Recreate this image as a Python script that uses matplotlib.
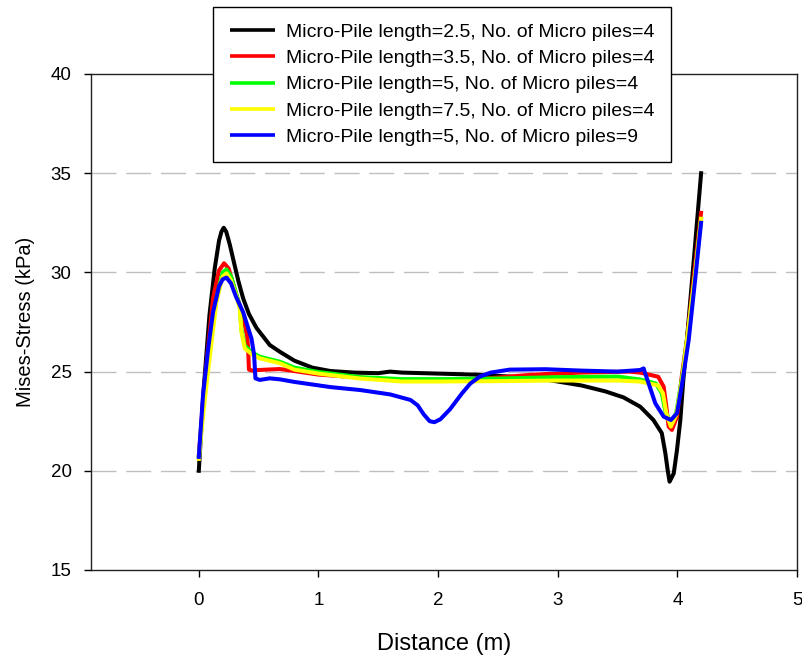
import matplotlib
matplotlib.use("Agg")
import matplotlib.pyplot as plt

plt.rcParams['font.family'] = ['Liberation Sans', 'DejaVu Sans']

labels = [
    "Micro-Pile length=2.5, No. of Micro piles=4",
    "Micro-Pile length=3.5, No. of Micro piles=4",
    "Micro-Pile length=5, No. of Micro piles=4",
    "Micro-Pile length=7.5, No. of Micro piles=4",
    "Micro-Pile length=5, No. of Micro piles=9",
]
colors = ["#000000", "#ff0000", "#00ff00", "#ffff00", "#0000ff"]

black_x = [0, 0.04, 0.09, 0.134, 0.17, 0.19, 0.209, 0.23, 0.26, 0.287, 0.33, 0.371, 0.42, 0.483, 0.594, 0.678,
           0.8, 0.95, 1.1, 1.3, 1.5, 1.6, 1.7, 2.0, 2.3, 2.6, 2.9, 3.2, 3.4, 3.55, 3.69, 3.8, 3.87, 3.9,
           3.92, 3.935, 3.97, 3.997, 4.025, 4.05, 4.08, 4.14, 4.2]
black_y = [19.9, 24.0, 27.85, 30.2, 31.6, 32.05, 32.25, 32.05, 31.4, 30.7, 29.6, 28.7, 27.9, 27.2, 26.34, 26.0,
           25.55, 25.2, 25.03, 24.95, 24.92, 25.0, 24.95, 24.9, 24.85, 24.75, 24.6, 24.3, 24.0, 23.7, 23.23, 22.56, 21.9, 20.88,
           20.0, 19.45, 19.87, 21.05, 22.56, 24.58, 26.6, 30.8, 35.1]

red_x = [0, 0.05, 0.12, 0.17, 0.212, 0.25, 0.315, 0.35, 0.385, 0.405, 0.413, 0.42, 0.45, 0.5, 0.678, 1.0, 1.35,
         1.7, 2.0, 2.4, 2.8, 3.2, 3.6, 3.69, 3.84, 3.886, 3.908, 3.927, 3.955, 3.997, 4.04, 4.08, 4.14, 4.2]
red_y = [20.7, 24.5, 28.7, 30.1, 30.46, 30.2, 28.86, 28.2, 27.35, 26.8, 26.17, 25.1, 25.05, 25.08, 25.13, 24.85, 24.7,
         24.55, 24.55, 24.65, 24.85, 24.95, 25.0, 24.95, 24.74, 24.24, 23.23, 22.23, 22.06, 22.73, 24.9, 26.6, 29.9, 33.1]

green_x = [0, 0.04, 0.08, 0.148, 0.2, 0.232, 0.27, 0.31, 0.343, 0.357, 0.385, 0.45, 0.51, 0.678, 0.8, 1.0, 1.35, 1.7,
           2.0, 2.5, 3.0, 3.5, 3.69, 3.82, 3.87, 3.9, 3.946, 3.99, 4.04, 4.09, 4.15, 4.2]
green_y = [20.6, 23.4, 25.4, 28.7, 30.0, 30.15, 29.8, 29.0, 28.3, 27.1, 26.3, 25.95, 25.75, 25.5, 25.2, 24.98, 24.72, 24.62,
           24.62, 24.65, 24.72, 24.75, 24.6, 24.4, 23.9, 23.0, 22.4, 22.9, 24.7, 27.0, 30.0, 32.8]

yellow_x = [0, 0.04, 0.078, 0.148, 0.2, 0.232, 0.27, 0.31, 0.343, 0.357, 0.385, 0.45, 0.51, 0.678, 0.8, 1.0, 1.35, 1.7,
            2.0, 2.5, 3.0, 3.5, 3.69, 3.84, 3.88, 3.908, 3.946, 3.99, 4.04, 4.09, 4.15, 4.2]
yellow_y = [20.5, 23.0, 25.0, 28.5, 29.8, 29.95, 29.6, 28.9, 28.2, 27.0, 26.17, 25.85, 25.67, 25.42, 25.1, 24.9, 24.65, 24.5,
            24.5, 24.52, 24.55, 24.55, 24.5, 24.3, 23.9, 22.9, 22.23, 22.8, 24.6, 27.0, 30.0, 32.8]

blue_x = [0, 0.036, 0.08, 0.12, 0.17, 0.2, 0.232, 0.27, 0.31, 0.371, 0.441, 0.463, 0.474, 0.51, 0.594, 0.678, 0.8,
          1.1, 1.35, 1.6, 1.77, 1.83, 1.88, 1.93, 1.97, 2.02, 2.1, 2.2, 2.27, 2.35, 2.44, 2.6, 2.9, 3.2, 3.5,
          3.69, 3.718, 3.76, 3.816, 3.886, 3.946, 3.997, 4.04, 4.095, 4.15, 4.2]
blue_y = [20.6, 23.8, 26.2, 28.0, 29.3, 29.65, 29.74, 29.45, 28.8, 28.0, 26.67, 25.84, 24.66, 24.58, 24.66, 24.61, 24.48,
          24.22, 24.07, 23.85, 23.57, 23.3, 22.85, 22.5, 22.45, 22.6, 23.1, 23.9, 24.4, 24.75, 24.95, 25.1, 25.12, 25.05, 25.0,
          25.08, 25.16, 24.4, 23.4, 22.73, 22.56, 22.9, 24.41, 26.6, 29.7, 32.6]

series = [(black_x, black_y), (red_x, red_y), (green_x, green_y), (yellow_x, yellow_y), (blue_x, blue_y)]

x_ticks = [0, 1, 2, 3, 4, 5]
y_ticks = [15, 20, 25, 30, 35, 40]
grid_levels = [20, 25, 30, 35]

fig = plt.figure(figsize=(8.03, 6.55), dpi=100)
ax = fig.add_axes([91/803, 1-570/655, (797-91)/803, (570-74)/655])

for g in grid_levels:
    ax.axhline(g, color="#bfbfbf", lw=1.0, dashes=(18, 7), zorder=0)

handles = []
for (xs, ys), c, lab in zip(series, colors, labels):
    h, = ax.plot(xs, ys, color=c, lw=2.9, label=lab, solid_joinstyle='round', solid_capstyle='butt')
    handles.append(h)

ax.set_xlim(-0.9, 5)
ax.set_ylim(15, 40)
ax.set_xticks(x_ticks)
ax.set_yticks(y_ticks)
ax.tick_params(direction='out', length=5, width=1, labelsize=13.5, top=False, right=False)
ax.tick_params(axis='x', pad=11)
ax.tick_params(axis='y', pad=9)
for s in ax.spines.values():
    s.set_linewidth(1.0)
    s.set_color("#222222")
ax.set_xlabel("Distance (m)", fontsize=17, labelpad=17)
ax.set_ylabel("Mises-Stress (kPa)", fontsize=14.5, labelpad=11)

leg = fig.legend(handles=handles, loc='upper left', bbox_to_anchor=(213/803, 1-7/655),
                 bbox_transform=fig.transFigure, fontsize=14, frameon=True, fancybox=False,
                 edgecolor='black', framealpha=1, handlelength=2.32, handletextpad=0.57,
                 labelspacing=0.44, borderpad=0.85, borderaxespad=0)
leg.get_frame().set_linewidth(1.0)
for lh in leg.get_lines():
    lh.set_linewidth(2.6)

fig.savefig("out.png", dpi=100)
